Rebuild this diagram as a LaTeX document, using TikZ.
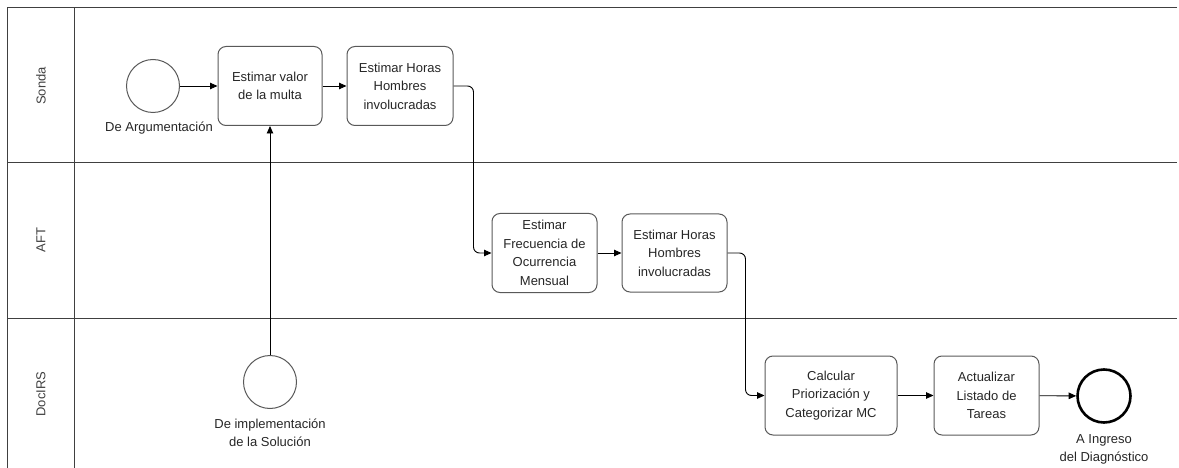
\documentclass[tikz,border=0pt]{standalone}
\usepackage{fontspec}
\setmainfont{Liberation Sans}
\usetikzlibrary{arrows.meta}
\begin{document}
\begin{tikzpicture}[x=1pt,y=-1pt,
  every node/.style={font=\fontsize{13}{18.5}\selectfont, text=black!85},
  task/.style={draw=black!65, line width=1pt, rounded corners=8pt, align=center, inner sep=0pt},
  startev/.style={draw=black!65, line width=1pt, circle, minimum size=53pt, inner sep=0pt},
  endev/.style={draw=black, line width=2.6pt, circle, minimum size=53pt, inner sep=0pt},
  lane/.style={draw=black!75, line width=1pt},
  flow/.style={draw=black, line width=0.9pt, rounded corners=6pt, -{Triangle[length=7.5pt,width=6.5pt]}},
  lbl/.style={align=center}]
\useasboundingbox (0,0) rectangle (1179,468);

% pool and lane borders
\draw[lane] (1177,8) -- (7,8) -- (7,468);
\draw[lane] (74,8) -- (74,468);
\draw[lane] (7,163) -- (1177,163);
\draw[lane] (7,318) -- (1177,318);

% lane titles
\node[rotate=90, text=black!75] (lsonda) at (41,86) {Sonda};
\node[rotate=90, text=black!75] (laft) at (41,240) {AFT};
\node[rotate=90, text=black!75] (ldoc) at (41,394) {DocIRS};

% events
\node[startev] (s1) at (153,86) {};
\node[lbl, anchor=north] (s1l) at (159,118) {De Argumentación};
\node[startev] (s2) at (270,382) {};
\node[lbl, anchor=north] (s2l) at (270,415) {De implementación\\de la Solución};
\node[endev] (e1) at (1104,396) {};
\node[lbl, anchor=north] (e1l) at (1104,431) {A Ingreso\\del Diagnóstico};

% tasks
\node[task, minimum width=104pt, minimum height=79pt] (t1) at (270,86) {Estimar valor\\de la multa};
\node[task, minimum width=106pt, minimum height=79pt] (t2) at (400,86) {Estimar Horas\\Hombres\\involucradas};
\node[task, minimum width=105pt, minimum height=79pt] (t3) at (544.5,253) {Estimar\\Frecuencia de\\Ocurrencia\\Mensual};
\node[task, minimum width=105pt, minimum height=78pt] (t4) at (674.5,253) {Estimar Horas\\Hombres\\involucradas};
\node[task, minimum width=132pt, minimum height=79pt] (t5) at (831,395.5) {Calcular\\Priorización y\\Categorizar MC};
\node[task, minimum width=105pt, minimum height=79pt] (t6) at (986.5,395.5) {Actualizar\\Listado de\\Tareas};

% sequence flows
\draw[flow] (s1) -- (t1);
\draw[flow] (t1) -- (t2);
\draw[flow] (s2) -- (t1);
\draw[flow] (t2.east) -- ++(20,0) |- (t3.west);
\draw[flow] (t3) -- (t4);
\draw[flow] (t4.east) -- ++(18,0) |- (t5.west);
\draw[flow] (t5) -- (t6);
\draw[flow] (t6) -- (e1);
\end{tikzpicture}
\end{document}
